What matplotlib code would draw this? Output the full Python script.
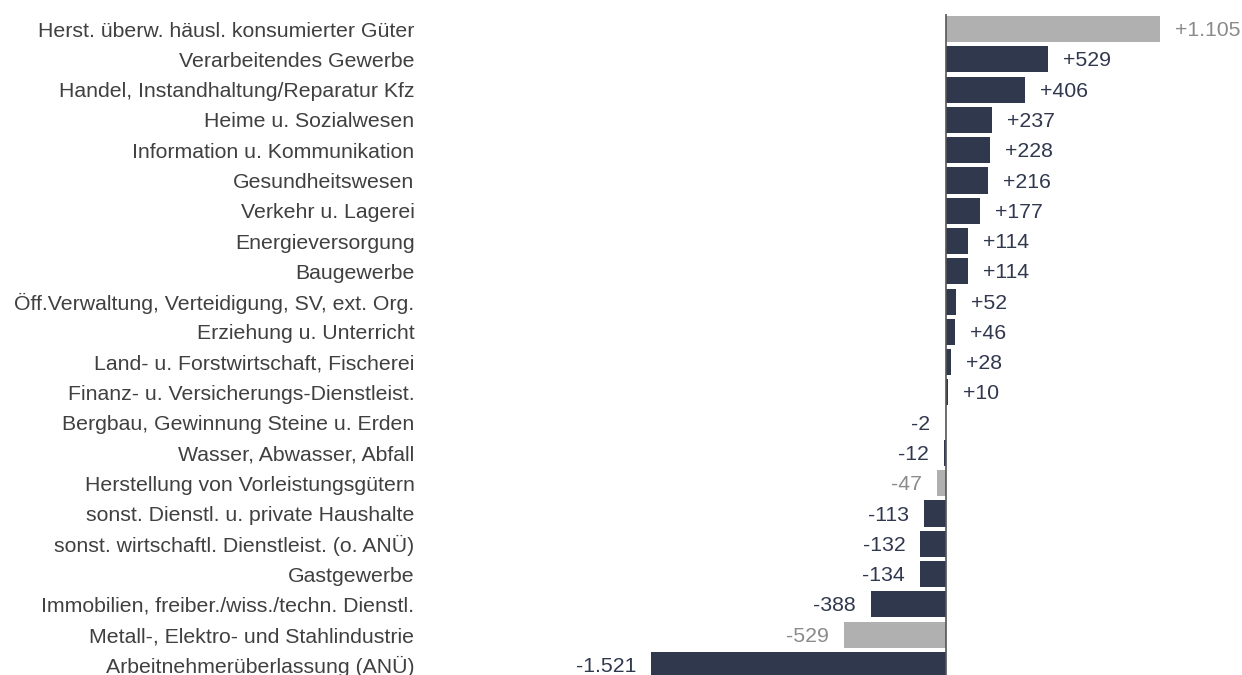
import matplotlib.pyplot as plt

plt.rcParams['font.family'] = ['Liberation Sans', 'DejaVu Sans']

categories = [
    "Herst. überw. häusl. konsumierter Güter",
    "Verarbeitendes Gewerbe",
    "Handel, Instandhaltung/Reparatur Kfz",
    "Heime u. Sozialwesen",
    "Information u. Kommunikation",
    "Gesundheitswesen",
    "Verkehr u. Lagerei",
    "Energieversorgung",
    "Baugewerbe",
    "Öff.Verwaltung, Verteidigung, SV, ext. Org.",
    "Erziehung u. Unterricht",
    "Land- u. Forstwirtschaft, Fischerei",
    "Finanz- u. Versicherungs-Dienstleist.",
    "Bergbau, Gewinnung Steine u. Erden",
    "Wasser, Abwasser, Abfall",
    "Herstellung von Vorleistungsgütern",
    "sonst. Dienstl. u. private Haushalte",
    "sonst. wirtschaftl. Dienstleist. (o. ANÜ)",
    "Gastgewerbe",
    "Immobilien, freiber./wiss./techn. Dienstl.",
    "Metall-, Elektro- und Stahlindustrie",
    "Arbeitnehmerüberlassung (ANÜ)",
]
values = [1105, 529, 406, 237, 228, 216, 177, 114, 114, 52, 46, 28, 10,
          -2, -12, -47, -113, -132, -134, -388, -529, -1521]
# sub-sectors shown in grey
highlight = [True, False, False, False, False, False, False, False, False,
             False, False, False, False, False, False, True, False, False,
             False, False, True, False]

navy = '#30384e'
grey = '#b0b0b0'
grey_txt = '#8a8a8a'
text_col = '#404040'
fs = 15.3

fig = plt.figure(figsize=(12.42, 6.75), dpi=100)
ax = fig.add_axes([420 / 1242, -5 / 675, 822 / 1242, 666 / 675])

px = 0.1937  # pixels per unit
ax.set_xlim((420 - 946) / px, (1242 - 946) / px)
ax.set_ylim(len(values) - 0.5, -0.5)

ypos = list(range(len(values)))
cols = [grey if h else navy for h in highlight]
ax.barh(ypos, values, height=0.86, color=cols)

def fmt(v):
    s = f"{abs(v):,}".replace(",", ".")
    return ("+" if v > 0 else "-") + s

off = 15 / px
for y, v, h in zip(ypos, values, highlight):
    c = grey_txt if h else navy
    if v > 0:
        ax.text(v + off, y + 0.05, fmt(v), ha='left', va='center', fontsize=fs, color=c)
    else:
        ax.text(v - off, y + 0.05, fmt(v), ha='right', va='center', fontsize=fs, color=c)

ax.axvline(0, color='#555555', lw=1.2)

ax.set_yticks(ypos)
ax.set_yticklabels(categories, fontsize=fs, color=text_col)
ax.tick_params(axis='y', length=0, pad=4)
ax.set_xticks([])
for s in ax.spines.values():
    s.set_visible(False)

fig.savefig('out.png', dpi=100)
